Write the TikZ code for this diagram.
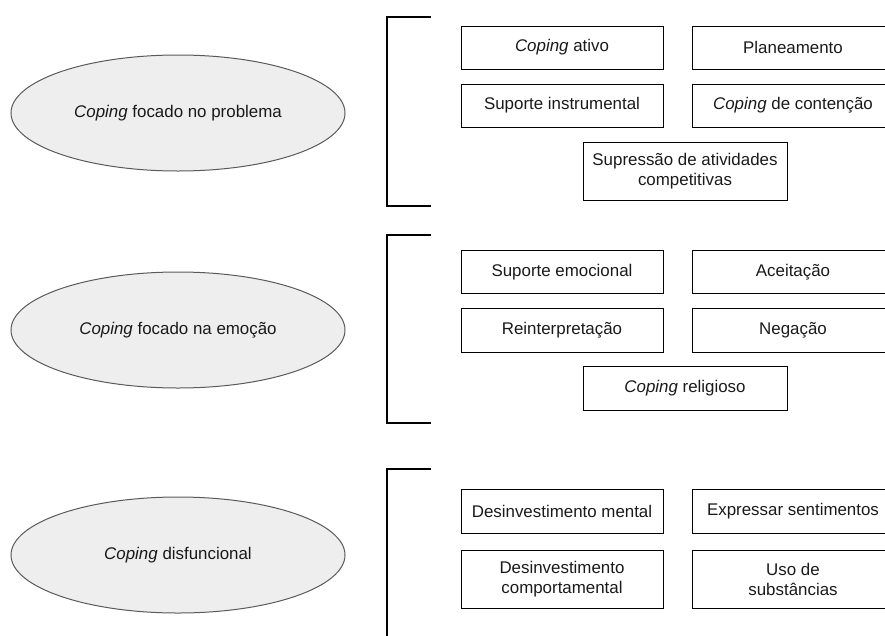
\documentclass[tikz,border=0pt]{standalone}
\usepackage{fontspec}
\setmainfont{Liberation Sans}
\usetikzlibrary{shapes.geometric}
\definecolor{ellfill}{HTML}{EEEEEE}
\definecolor{ellline}{HTML}{5A5A5A}
\definecolor{txt}{HTML}{1A1A1A}
\begin{document}
\begin{tikzpicture}[x=1pt,y=-1pt,
  every node/.style={font=\fontsize{16.9}{20}\selectfont, text=txt},
  cbox/.style={draw=black, line width=1pt, minimum width=202pt, minimum height=43pt, align=center, inner sep=0pt},
  cwide/.style={cbox, minimum width=204pt},
  ctall/.style={minimum height=58pt},
  cell/.style={ellipse, draw=ellline, fill=ellfill, line width=1pt, minimum width=334pt, minimum height=116pt, inner sep=0pt},
  brk/.style={draw=black, line width=2.6pt}
]
\useasboundingbox (0,0) rectangle (885,635);
\clip (0,0) rectangle (885,635);

% ellipses
\node[cell] (e1) at (178,113) {\textit{Coping} focado no problema};
\node[cell] (e2) at (178,330) {\textit{Coping} focado na emoção};
\node[cell] (e3) at (178,555) {\textit{Coping} disfuncional};

% brackets
\coordinate (b1t) at (431,17);  \coordinate (b1b) at (431,206);
\coordinate (b2t) at (431,235); \coordinate (b2b) at (431,423);
\coordinate (b3t) at (431,469); \coordinate (b3b) at (387,640);
\draw[brk] (b1t) -- (387,17) -- (387,206) -- (b1b);
\draw[brk] (b2t) -- (387,235) -- (387,423) -- (b2b);
\draw[brk] (b3t) -- (387,469) -- (b3b);

% group 1
\node[cbox] (a1) at (562,47.5) {\textit{Coping} ativo};
\node[cbox] (a2) at (793,47.5) {Planeamento};
\node[cbox] (a3) at (562,105.5) {Suporte instrumental};
\node[cbox] (a4) at (793,105.5) {\textit{Coping} de contenção};
\node[cwide, ctall] (a5) at (685,171) {Supressão de atividades\\competitivas};

% group 2
\node[cbox] (s1) at (562,272) {Suporte emocional};
\node[cbox] (s2) at (793,272) {Aceitação};
\node[cbox, minimum height=44pt] (s3) at (562,330) {Reinterpretação};
\node[cbox, minimum height=44pt] (s4) at (793,330) {Negação};
\node[cwide, minimum height=44pt] (s5) at (685,388) {\textit{Coping} religioso};

% group 3
\node[cbox, minimum height=44pt] (d1) at (562,511) {Desinvestimento mental};
\node[cbox, minimum height=44pt] (d2) at (793,511) {Expressar sentimentos};
\node[cbox, ctall] (d3) at (562,579) {Desinvestimento\\comportamental};
\node[cbox, ctall] (d4) at (793,579) {Uso de\\substâncias};
\end{tikzpicture}
\end{document}
